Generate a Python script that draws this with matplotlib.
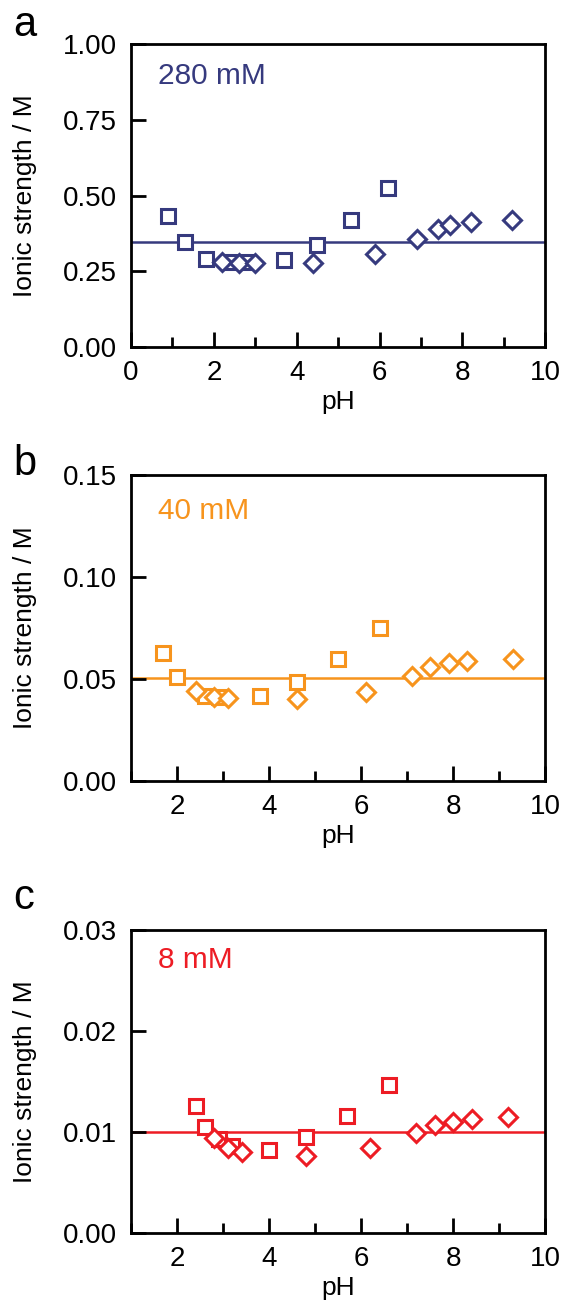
import numpy as np
import matplotlib
matplotlib.use('Agg')
import matplotlib.pyplot as plt
from matplotlib.ticker import MultipleLocator

plt.rcParams['font.family'] = ['Liberation Sans', 'DejaVu Sans']

# panel a: 280 mM
a_sq_x = [0.9, 1.3, 1.8, 2.4, 2.8, 3.7, 4.5, 5.3, 6.2]
a_sq_y = [0.433, 0.346, 0.292, 0.282, 0.280, 0.288, 0.337, 0.418, 0.525]
a_di_x = [2.2, 2.6, 3.0, 4.4, 5.9, 6.9, 7.4, 7.7, 8.2, 9.2]
a_di_y = [0.280, 0.278, 0.277, 0.277, 0.307, 0.358, 0.389, 0.404, 0.411, 0.418]
a_line = 0.347

# panel b: 40 mM
b_sq_x = [1.7, 2.0, 2.6, 2.9, 3.8, 4.6, 5.5, 6.4]
b_sq_y = [0.0626, 0.0508, 0.0415, 0.0410, 0.0417, 0.0484, 0.0596, 0.0752]
b_di_x = [2.4, 2.8, 3.1, 4.6, 6.1, 7.1, 7.5, 7.9, 8.3, 9.3]
b_di_y = [0.0443, 0.0413, 0.0405, 0.0400, 0.0438, 0.0515, 0.0560, 0.0577, 0.0590, 0.0600]
b_line = 0.0503

# panel c: 8 mM
c_sq_x = [2.4, 2.6, 2.9, 3.2, 4.0, 4.8, 5.7, 6.6]
c_sq_y = [0.0126, 0.0105, 0.0093, 0.0086, 0.0082, 0.0095, 0.0116, 0.0147]
c_di_x = [2.8, 3.1, 3.4, 4.8, 6.2, 7.2, 7.6, 8.0, 8.4, 9.2]
c_di_y = [0.0094, 0.0084, 0.0080, 0.0076, 0.0084, 0.0099, 0.0107, 0.0110, 0.0113, 0.0115]
c_line = 0.0100

panels = [
    ('a', '280 mM', '#363a7e', a_sq_x, a_sq_y, a_di_x, a_di_y, a_line,
     (0, 10), (0, 1.0), 0.25, [0.7337, 0.2325], 1.026, 0.868),
    ('b', '40 mM', '#f7941d', b_sq_x, b_sq_y, b_di_x, b_di_y, b_line,
     (1, 10), (0, 0.15), 0.05, [0.4006, 0.2348], 1.0, 0.858),
    ('c', '8 mM', '#ed1c24', c_sq_x, c_sq_y, c_di_x, c_di_y, c_line,
     (1, 10), (0, 0.03), 0.01, [0.0537, 0.2325], 1.07, 0.874),
]

fig = plt.figure(figsize=(5.65, 13.03), dpi=100)

for lab, conc, col, sx, sy, dx, dy, ln, xl, yl, ystep, (b0, h), ly, cy in panels:
    ax = fig.add_axes([0.232, b0, 0.733, h])
    ax.axhline(ln, color=col, lw=1.8, zorder=1)
    ax.plot(sx, sy, 's', ms=9.5, mfc='white', mec=col, mew=2.2, zorder=2)
    ax.plot(dx, dy, 'D', ms=9.5, mfc='white', mec=col, mew=2.2, zorder=3)
    ax.set_xlim(*xl)
    ax.set_ylim(*yl)
    ax.xaxis.set_major_locator(MultipleLocator(2))
    ax.xaxis.set_minor_locator(MultipleLocator(1))
    ax.yaxis.set_major_locator(MultipleLocator(ystep))
    ax.yaxis.set_major_formatter(plt.FormatStrFormatter('%.2f'))
    ax.tick_params(which='both', direction='in', top=False, right=False,
                   labelsize=20, width=2)
    ax.tick_params(axis='x', pad=9.5)
    ax.tick_params(axis='y', pad=10)
    ax.tick_params(which='major', length=11)
    ax.tick_params(which='minor', length=7)
    for s in ax.spines.values():
        s.set_linewidth(2)
    ax.set_xlabel('pH', fontsize=19, labelpad=3)
    ax.set_ylabel('Ionic strength / M', fontsize=19, labelpad=19)
    ax.text(0.066, cy, conc, transform=ax.transAxes, color=col,
            fontsize=21.5, va='baseline', ha='left')
    ax.text(-0.285, ly, lab, transform=ax.transAxes, fontsize=30,
            va='baseline', ha='left')

fig.savefig('out.png', dpi=100)
